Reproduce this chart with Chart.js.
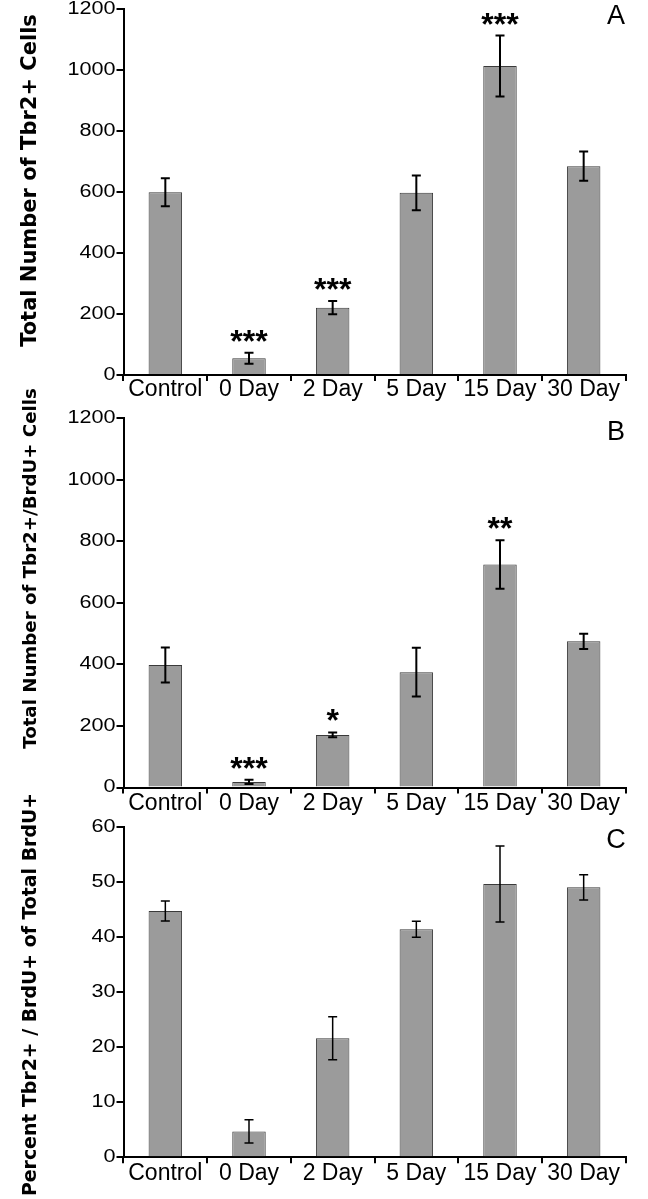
<!DOCTYPE html>
<html lang="en">
<head>
<meta charset="UTF-8" />
<title>Tbr2+ cells over time</title>
<script src="https://cdn.jsdelivr.net/npm/chart.js"></script>
<style>
  body{margin:0;background:#fff;width:648px;height:1199px;overflow:hidden;position:relative;}
  .panel{position:absolute;left:0;width:648px;}
</style>
</head>
<body>
<div class="panel" style="top:0;height:410px"><canvas id="chartA"></canvas></div>
<div class="panel" style="top:380px;height:440px"><canvas id="chartB"></canvas></div>
<div class="panel" style="top:785px;height:414px"><canvas id="chartC"></canvas></div>

<script>
/* ---------- data ---------- */
const categories = ['Control', '0 Day', '2 Day', '5 Day', '15 Day', '30 Day'];

const tbr2Mean  = [600, 55, 221, 598, 1014, 685];
const tbr2Err   = [46, 18, 22, 57, 100, 48];
const tbr2Stars = ['', '***', '***', '', '***', ''];

const dblMean  = [398, 18, 171, 375, 725, 475];
const dblErr   = [57, 7, 8, 79, 79, 25];
const dblStars = ['', '***', '*', '', '**', ''];

const pctMean  = [44.7, 4.7, 21.6, 41.4, 49.6, 49.0];
const pctErr   = [1.8, 2.1, 3.9, 1.45, 6.9, 2.3];
const pctStars = ['', '', '', '', '', ''];

/* ---------- drawing helpers ---------- */
const AXIS_LEFT = 123.5, AXIS_RIGHT = 625.5;

function decor(p) {
  return {
    id: 'decor',
    afterDatasetsDraw(chart) {
      const {ctx, scales: {x, y}} = chart;
      ctx.save();
      ctx.strokeStyle = '#000';
      ctx.lineWidth = p.errWidth;
      p.means.forEach((m, i) => {
        const cx = x.getPixelForValue(i);
        const hi = y.getPixelForValue(m + p.errs[i]);
        const lo = y.getPixelForValue(m - p.errs[i]);
        ctx.beginPath();
        ctx.moveTo(cx, hi); ctx.lineTo(cx, lo);
        ctx.moveTo(cx - 4.5, hi); ctx.lineTo(cx + 4.5, hi);
        ctx.moveTo(cx - 4.5, lo); ctx.lineTo(cx + 4.5, lo);
        ctx.stroke();
        if (p.stars[i]) {
          ctx.fillStyle = '#000';
          ctx.font = 'bold 32px "Liberation Sans", Arial, sans-serif';
          ctx.textAlign = 'center';
          ctx.textBaseline = 'alphabetic';
          ctx.fillText(p.stars[i], cx, hi - 1);
        }
      });
      ctx.restore();
    },
    afterDraw(chart) {
      const {ctx, scales: {y}, chartArea} = chart;
      ctx.save();
      ctx.fillStyle = '#000';
      // y tick labels (wide numerals, as in the figure)
      ctx.font = '18px "Liberation Sans", Arial, sans-serif';
      ctx.textAlign = 'right';
      ctx.textBaseline = 'middle';
      y.ticks.forEach(t => {
        const py = y.getPixelForValue(t.value);
        ctx.save();
        ctx.translate(chartArea.left - 8, py);
        ctx.scale(1.2, 1);
        ctx.fillText(String(t.value), 0, 0);
        ctx.restore();
      });
      // rotated axis title
      ctx.save();
      ctx.translate(36, p.titleY);
      ctx.rotate(-Math.PI / 2);
      ctx.font = `bold ${p.titleSize}px "DejaVu Sans", sans-serif`;
      ctx.textAlign = 'center';
      ctx.textBaseline = 'alphabetic';
      ctx.fillText(p.title, 0, 0);
      ctx.restore();
      // panel letter
      ctx.font = '27px "Liberation Sans", Arial, sans-serif';
      ctx.textAlign = 'center';
      ctx.textBaseline = 'alphabetic';
      ctx.fillText(p.letter, 616, p.letterY);
      ctx.restore();
    }
  };
}

function makePanel(id, p) {
  const canvasW = 648;
  return new Chart(document.getElementById(id), {
    type: 'bar',
    data: {
      labels: categories,
      datasets: [{
        data: p.means,
        backgroundColor: '#9b9b9b',
        borderColor: '#3a3a3a',
        borderWidth: 1,
        barPercentage: 0.4,
        categoryPercentage: 1.0
      }]
    },
    options: {
      responsive: true,
      maintainAspectRatio: false,
      animation: false,
      layout: {padding: {top: p.padTop, left: 0, right: canvasW - AXIS_RIGHT, bottom: 0}},
      plugins: {legend: {display: false}, tooltip: {enabled: false}},
      scales: {
        x: {
          offset: true,
          border: {color: '#000', width: 2},
          grid: {offset: true, drawOnChartArea: false, drawTicks: true, tickLength: 6, color: '#000', lineWidth: 2},
          ticks: {color: '#000', padding: p.labelPad, maxRotation: 0, autoSkip: false,
                  font: {family: '"Liberation Sans", Arial, sans-serif', size: 23}},
          afterFit(s) { s.height = p.xHeight; s.paddingLeft = 0; s.paddingRight = 0; }
        },
        y: {
          min: 0, max: p.yMax,
          border: {color: '#000', width: 2},
          grid: {drawOnChartArea: false, drawTicks: true, tickLength: 7, color: '#000', lineWidth: 2},
          ticks: {display: false, stepSize: p.yStep},
          afterFit(s) { s.width = AXIS_LEFT; s.paddingTop = 0; s.paddingBottom = 0; }
        }
      }
    },
    plugins: [decor(p)]
  });
}

makePanel('chartA', {
  means: tbr2Mean, errs: tbr2Err, stars: tbr2Stars, yMax: 1200, yStep: 200,
  title: 'Total Number of Tbr2+ Cells', titleSize: 21, titleY: 180.5,
  letter: 'A', letterY: 24, padTop: 9.3, xHeight: 35, labelPad: -5, errWidth: 2
});

makePanel('chartB', {
  means: dblMean, errs: dblErr, stars: dblStars, yMax: 1200, yStep: 200,
  title: 'Total Number of Tbr2+/BrdU+ Cells', titleSize: 18.2, titleY: 188.5,
  letter: 'B', letterY: 60, padTop: 38.3, xHeight: 32.5, labelPad: -4, errWidth: 2
});

makePanel('chartC', {
  means: pctMean, errs: pctErr, stars: pctStars, yMax: 60, yStep: 10,
  title: 'Percent Tbr2+ / BrdU+ of Total BrdU+', titleSize: 18.9, titleY: 209.5,
  letter: 'C', letterY: 63, padTop: 41.7, xHeight: 41.7, labelPad: -3, errWidth: 1.5
});
</script>
</body>
</html>
